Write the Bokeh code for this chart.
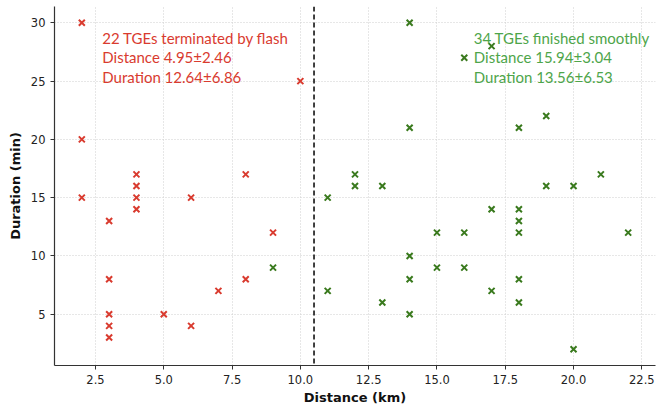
from bokeh.plotting import figure
from bokeh.models import Span, Label, FixedTicker, PrintfTickFormatter, Range1d
from bokeh.embed import file_html
from bokeh.resources import INLINE

# Flash-terminated TGEs (red)
flash_dist = [2, 2, 2, 10, 4, 4, 4, 4, 6, 8, 3, 9, 3, 8, 7, 3, 5, 3, 6, 3]
flash_dur = [30, 20, 15, 25, 17, 16, 15, 14, 15, 17, 13, 12, 8, 8, 7, 5, 5, 4, 4, 3]

# Smoothly finished TGEs (green)
smooth_dist = [9, 14, 16, 17, 14, 18, 19, 12, 12, 13, 19, 20, 21, 11, 17, 18, 18, 18,
               15, 16, 22, 14, 15, 16, 14, 18, 11, 17, 13, 18, 14, 20]
smooth_dur = [9, 30, 27, 28, 21, 21, 22, 17, 16, 16, 16, 16, 17, 15, 14, 14, 13, 12,
              12, 12, 12, 10, 9, 9, 8, 8, 7, 7, 6, 6, 5, 2]

x_ticks = [2.5, 5.0, 7.5, 10.0, 12.5, 15.0, 17.5, 20.0, 22.5]
y_ticks = [5, 10, 15, 20, 25, 30]
threshold = 10.5

red_lines = ["22 TGEs terminated by flash", "Distance 4.95\u00b12.46", "Duration 12.64\u00b16.86"]
green_lines = ["34 TGEs finished smoothly", "Distance 15.94\u00b13.04", "Duration 13.56\u00b16.53"]

RED = "#d93b2f"
GREEN_MK = "#3a7a1e"
GREEN_TX = "#4ea54a"

p = figure(width=670, height=407, output_backend="svg", toolbar_location=None,
           x_range=Range1d(1.0, 23.0), y_range=Range1d(0.6, 31.4),
           min_border_left=54, min_border_right=15, min_border_top=6, min_border_bottom=42)
p.outline_line_color = None
p.background_fill_color = "white"

for ax in (p.xaxis, p.yaxis):
    ax.axis_line_color = "#333333"
    ax.axis_line_width = 1.2
    ax.major_tick_line_color = "#333333"
    ax.major_tick_out = 4
    ax.major_tick_in = 0
    ax.minor_tick_line_color = None
    ax.major_label_text_font = "DejaVu Sans"
    ax.major_label_text_font_size = "11.5px"
    ax.major_label_text_color = "#222222"
    ax.axis_label_text_font = "DejaVu Sans"
    ax.axis_label_text_font_size = "13px"
    ax.axis_label_text_font_style = "bold"
    ax.axis_label_text_color = "#111111"

p.xaxis.ticker = FixedTicker(ticks=x_ticks)
p.xaxis.formatter = PrintfTickFormatter(format="%.1f")
p.yaxis.ticker = FixedTicker(ticks=y_ticks)
p.xaxis.axis_label = "Distance (km)"
p.yaxis.axis_label = "Duration (min)"
p.xaxis.axis_label_standoff = 3
p.yaxis.axis_label_standoff = 5

p.xgrid.grid_line_color = "#cfcfcf"
p.ygrid.grid_line_color = "#cfcfcf"
p.xgrid.grid_line_dash = "1 2"
p.ygrid.grid_line_dash = "1 2"

p.scatter(flash_dist, flash_dur, marker="x", size=8.5, line_color=RED, line_width=2)
p.scatter(smooth_dist, smooth_dur, marker="x", size=8.5, line_color=GREEN_MK, line_width=2)

p.add_layout(Span(location=threshold, dimension="height", line_color="#111111",
                  line_width=1.6, line_dash="5 3"))

for i, t in enumerate(red_lines):
    p.add_layout(Label(x=2.75, y=28.7, y_offset=-19.5 * i, text=t, text_font="Lato",
                       text_font_size="15px", text_color=RED, text_baseline="alphabetic"))
for i, t in enumerate(green_lines):
    p.add_layout(Label(x=16.35, y=28.7, y_offset=-19.5 * i, text=t, text_font="Lato",
                       text_font_size="15px", text_color=GREEN_TX, text_baseline="alphabetic"))

open("out.html", "w").write(file_html(p, INLINE))
